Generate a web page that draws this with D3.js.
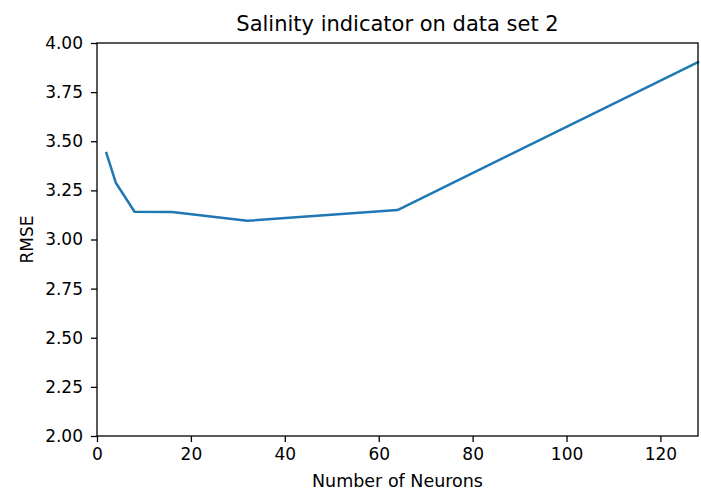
<!DOCTYPE html>
<html>
<head>
<meta charset="utf-8">
<script src="https://cdn.jsdelivr.net/npm/d3@7"></script>
<style>
  html, body { margin: 0; padding: 0; background: #fff; }
  svg { display: block; font-family: "DejaVu Sans", sans-serif; }
</style>
</head>
<body>
<svg id="chart" width="701" height="491"></svg>
<script>
// Hidden-layer sizes and the resulting RMSE
const neurons = [2, 4, 8, 16, 32, 64, 128];
const rmse = [3.44, 3.289, 3.141, 3.14, 3.095, 3.15, 3.902];
const xTicks = [0, 20, 40, 60, 80, 100, 120];
const yTicks = [2.00, 2.25, 2.50, 2.75, 3.00, 3.25, 3.50, 3.75, 4.00];

const margin = { left: 97, right: 3, top: 43, bottom: 55 };
const W = 701, H = 491;
const svg = d3.select("#chart");

const x = d3.scaleLinear().domain([0, 128]).range([margin.left, W - margin.right]);
const y = d3.scaleLinear().domain([2, 4]).range([H - margin.bottom, margin.top]);

// Data line
const line = d3.line().x((d, i) => x(neurons[i])).y(d => y(d));
svg.append("path")
  .datum(rmse)
  .attr("d", line)
  .attr("fill", "none")
  .attr("stroke", "#1f77b4")
  .attr("stroke-width", 2.5)
  .attr("stroke-linejoin", "round")
  .attr("stroke-linecap", "square");

// Axes
const xAxis = d3.axisBottom(x).tickValues(xTicks).tickSize(6).tickPadding(6).tickFormat(d3.format("d"));
const yAxis = d3.axisLeft(y).tickValues(yTicks).tickSize(6).tickPadding(8).tickFormat(d3.format(".2f"));

const gx = svg.append("g").attr("transform", `translate(0,${H - margin.bottom})`).call(xAxis);
const gy = svg.append("g").attr("transform", `translate(${margin.left},0)`).call(yAxis);
[gx, gy].forEach(g => {
  g.select(".domain").remove();
  g.selectAll(".tick line").attr("stroke", "#000").attr("stroke-width", 1.3);
  g.selectAll(".tick text").attr("fill", "#000").style("font-size", "17px")
    .style("font-family", "DejaVu Sans, sans-serif");
});

// Frame
svg.append("rect")
  .attr("x", x(0)).attr("y", y(4))
  .attr("width", x(128) - x(0)).attr("height", y(2) - y(4))
  .attr("fill", "none").attr("stroke", "#000").attr("stroke-width", 1.3);

// Labels
svg.append("text")
  .attr("x", (x(0) + x(128)) / 2).attr("y", 31)
  .attr("text-anchor", "middle").style("font-size", "21px")
  .text("Salinity indicator on data set 2");

svg.append("text")
  .attr("x", (x(0) + x(128)) / 2).attr("y", 487)
  .attr("text-anchor", "middle").style("font-size", "17.5px")
  .text("Number of Neurons");

svg.append("text")
  .attr("transform", `translate(33,${(y(2) + y(4)) / 2}) rotate(-90)`)
  .attr("text-anchor", "middle").style("font-size", "17px")
  .text("RMSE");
</script>
</body>
</html>
